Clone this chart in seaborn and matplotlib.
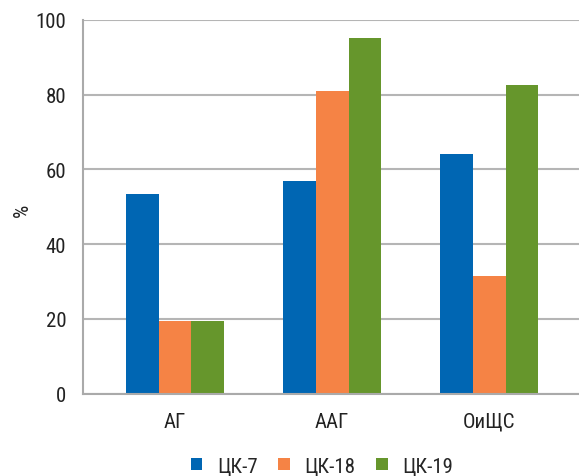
import matplotlib
matplotlib.use("Agg")
import matplotlib.pyplot as plt
import seaborn as sns
import pandas as pd
from matplotlib import font_manager as fm

categories = ["АГ", "ААГ", "ОиЩС"]
series = ["ЦК-7", "ЦК-18", "ЦК-19"]
ck7 = [53.4, 56.9, 64.1]
ck18 = [19.4, 80.9, 31.5]
ck19 = [19.4, 95.1, 82.5]
yticks = [0, 20, 40, 60, 80, 100]

colors = ["#0066B3", "#F58345", "#66962C"]

sns.set_style("white")
avail = {f.name for f in fm.fontManager.ttflist}
fams = [f for f in ["Liberation Sans Narrow", "Roboto Condensed", "Roboto", "DejaVu Sans"] if f in avail]
plt.rcParams['font.family'] = fams

rows = []
for s, vals in zip(series, [ck7, ck18, ck19]):
    for c, v in zip(categories, vals):
        rows.append({"cat": c, "series": s, "val": v})
df = pd.DataFrame(rows)

fig = plt.figure(figsize=(5.79, 4.77), dpi=100)
ax = fig.add_axes([83/579, 82.3/477, (579-83)/579, (394.7-20.7)/477])
sns.barplot(data=df, x="cat", y="val", hue="series", order=categories,
            hue_order=series, palette=colors, width=0.63, saturation=1,
            ax=ax, legend=True)
for p in ax.patches:
    p.set_edgecolor("none")

fs = 15
ax.set_ylim(0, 100)
ax.set_xlim(-0.586, 2.573)
ax.set_yticks(yticks)
ax.set_yticklabels([str(t) for t in yticks], fontsize=fs, color="#222222")
ax.tick_params(axis="x", length=0, labelsize=fs, colors="#222222", pad=13)
ax.tick_params(axis="y", length=8, width=1.5, color="#AAAAAA", pad=4)
ax.yaxis.grid(True, color="#B5B5B5", linewidth=1.5)
ax.set_axisbelow(True)
for s in ["top", "right"]:
    ax.spines[s].set_visible(False)
for s in ["left", "bottom"]:
    ax.spines[s].set_color("#AAAAAA")
    ax.spines[s].set_linewidth(1.5)
ax.set_xlabel("")
ax.set_ylabel("%", fontsize=fs, color="#222222")
ax.yaxis.set_label_coords(-0.103, 0.494)

handles, labels = ax.get_legend_handles_labels()
ax.get_legend().remove()
fig.legend(handles, labels, loc="center", bbox_to_anchor=(322/579, 10/477),
           ncol=3, frameon=False, fontsize=fs, handlelength=0.55, handleheight=0.55,
           handletextpad=0.7, columnspacing=1.0)

fig.savefig("out.png", dpi=100)
